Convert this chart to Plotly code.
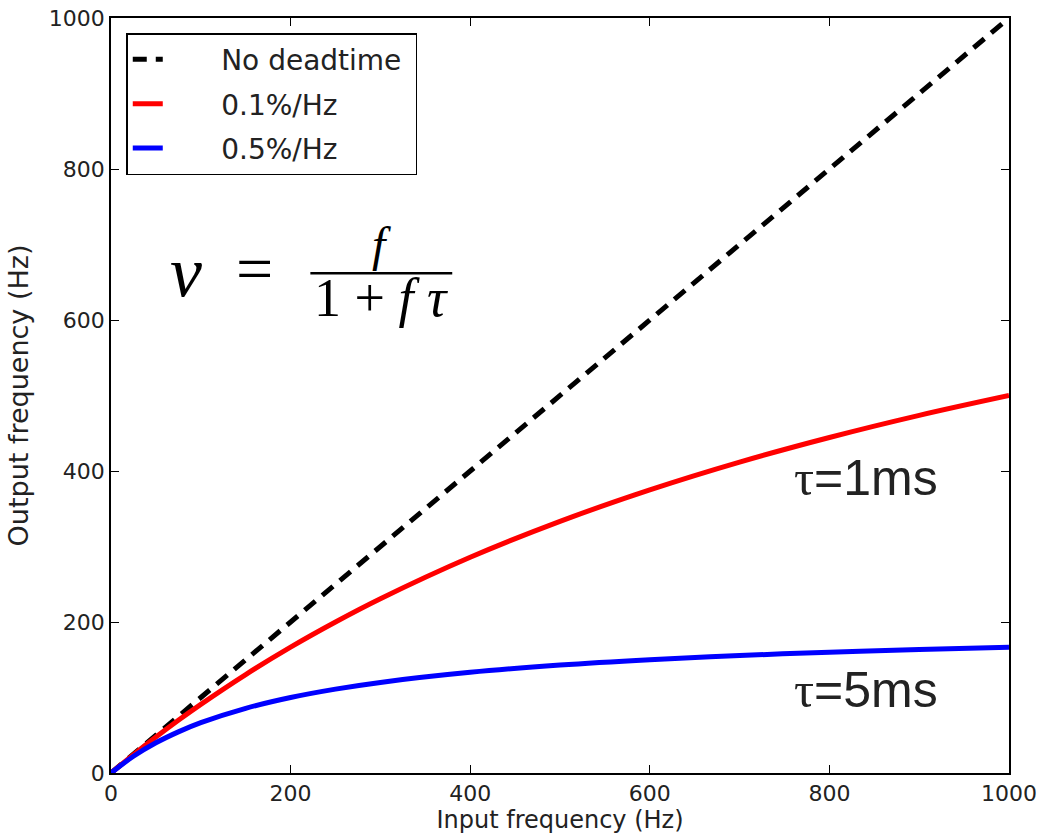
import plotly.graph_objects as go

# Input frequency (Hz)
input_freq = [0, 25, 50, 75, 100, 150, 200, 250, 300, 400, 500, 600, 700, 800, 900, 1000]
# Output frequency, tau = 1 ms (0.1%/Hz)
out_tau1 = [0, 24.4, 47.6, 69.8, 90.9, 130.4, 166.7, 200, 230.8, 285.7, 333.3, 375, 411.8, 444.4, 473.7, 500]
# Output frequency, tau = 5 ms (0.5%/Hz)
out_tau5 = [0, 22.2, 40, 54.5, 66.7, 85.7, 100, 111.1, 120, 133.3, 142.9, 150, 155.6, 160, 163.6, 166.7]
# No deadtime
nodead_x = [0, 1000]
nodead_y = [0, 1000]

ticks = [0, 200, 400, 600, 800, 1000]
tick_labels = ["0", "200", "400", "600", "800", "1000"]

NB = "\u00a0"
fig = go.Figure()
fig.add_trace(go.Scatter(x=nodead_x, y=nodead_y, mode="lines", name=NB * 6 + "No deadtime" + NB,
                         line=dict(color="black", width=5, dash="14px,9px"), legendgroup="a"))
fig.add_trace(go.Scatter(x=input_freq, y=out_tau1, mode="lines", name=NB * 6 + "0.1%/Hz",
                         line=dict(color="#ff0000", width=5, shape="spline"), legendgroup="b"))
fig.add_trace(go.Scatter(x=input_freq, y=out_tau5, mode="lines", name=NB * 6 + "0.5%/Hz",
                         line=dict(color="#0000ff", width=5, shape="spline"), legendgroup="c"))

axis_common = dict(
    showline=True, linecolor="black", linewidth=1.5, mirror="ticks",
    ticks="inside", ticklen=8, tickwidth=1, tickcolor="black",
    showgrid=False, zeroline=False, automargin=False,
    tickfont=dict(family="DejaVu Sans", size=22, color="#222"),
    tickvals=ticks, ticktext=tick_labels,
)

fig.update_xaxes(range=[0, 1000], title=dict(text="Input frequency (Hz)", standoff=0,
                 font=dict(family="DejaVu Sans", size=24, color="#222")), **axis_common)
fig.update_yaxes(range=[0, 1000], title=dict(text="Output frequency (Hz)", standoff=12,
                 font=dict(family="DejaVu Sans", size=27, color="#222")), **axis_common)

serif = "Liberation Serif"
fig.add_annotation(x=83, y=664, xref="x", yref="y", text="<i>ν</i>", showarrow=False,
                   font=dict(family=serif, size=72, color="black"))
fig.add_annotation(x=160, y=668, xref="x", yref="y", text="=", showarrow=False,
                   font=dict(family=serif, size=66, color="black"))
fig.add_annotation(x=301, y=700, xref="x", yref="y", text="<i>f</i>", showarrow=False,
                   font=dict(family=serif, size=48, color="black"))
fig.add_annotation(x=301, y=629, xref="x", yref="y", text="1" + NB + "+" + NB + "<i>f</i>" + NB + "<i>τ</i>",
                   showarrow=False, font=dict(family=serif, size=54, color="black"))
fig.add_shape(type="line", xref="x", yref="y", x0=222, x1=380, y0=662, y1=662,
              line=dict(color="black", width=2.5))

fig.add_annotation(x=841, y=391, xref="x", yref="y",
                   text="<span style='font-family:Liberation Serif'>τ</span>=1ms", showarrow=False,
                   font=dict(family="Liberation Sans", size=50, color="#222"))
fig.add_annotation(x=841, y=110, xref="x", yref="y",
                   text="<span style='font-family:Liberation Serif'>τ</span>=5ms", showarrow=False,
                   font=dict(family="Liberation Sans", size=50, color="#222"))

fig.update_layout(
    width=1043, height=836,
    margin=dict(l=111, r=34, t=18, b=63),
    paper_bgcolor="white", plot_bgcolor="white",
    showlegend=True,
    legend=dict(x=0.017, y=0.98, xanchor="left", yanchor="top",
                bordercolor="black", borderwidth=1.5, bgcolor="white",
                font=dict(family="DejaVu Sans", size=28, color="#222"),
                tracegroupgap=5),
)

fig.write_html("out.html", config={"displayModeBar": False},
               post_script="document.body.style.margin='0';document.body.style.overflow='hidden';")
